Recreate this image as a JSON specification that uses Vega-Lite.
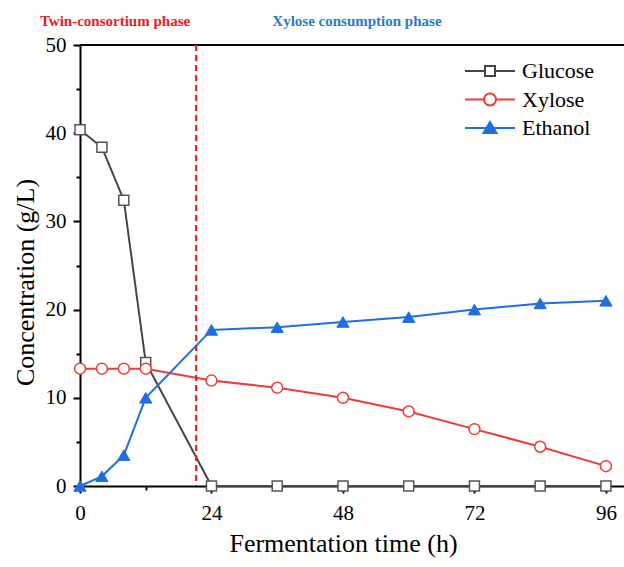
{
  "$schema": "https://vega.github.io/schema/vega-lite/v6.json",
  "autosize": {"type": "none"},
  "padding": {"left": 80, "top": 45, "right": 0, "bottom": 81},
  "width": 544,
  "height": 441,
  "config": {"view": {"stroke": null}, "font": "Liberation Serif"},
  "datasets": {
    "series": [
      {"time": 0, "conc": 40.4, "series": "Glucose"},
      {"time": 4, "conc": 38.4, "series": "Glucose"},
      {"time": 8, "conc": 32.4, "series": "Glucose"},
      {"time": 12, "conc": 14.0, "series": "Glucose"},
      {"time": 24, "conc": 0, "series": "Glucose"},
      {"time": 36, "conc": 0, "series": "Glucose"},
      {"time": 48, "conc": 0, "series": "Glucose"},
      {"time": 60, "conc": 0, "series": "Glucose"},
      {"time": 72, "conc": 0, "series": "Glucose"},
      {"time": 84, "conc": 0, "series": "Glucose"},
      {"time": 96, "conc": 0, "series": "Glucose"},
      {"time": 0, "conc": 13.3, "series": "Xylose"},
      {"time": 4, "conc": 13.3, "series": "Xylose"},
      {"time": 8, "conc": 13.3, "series": "Xylose"},
      {"time": 12, "conc": 13.3, "series": "Xylose"},
      {"time": 24, "conc": 11.95, "series": "Xylose"},
      {"time": 36, "conc": 11.15, "series": "Xylose"},
      {"time": 48, "conc": 10.0, "series": "Xylose"},
      {"time": 60, "conc": 8.45, "series": "Xylose"},
      {"time": 72, "conc": 6.45, "series": "Xylose"},
      {"time": 84, "conc": 4.45, "series": "Xylose"},
      {"time": 96, "conc": 2.25, "series": "Xylose"},
      {"time": 0, "conc": 0, "series": "Ethanol"},
      {"time": 4, "conc": 1.1, "series": "Ethanol"},
      {"time": 8, "conc": 3.5, "series": "Ethanol"},
      {"time": 12, "conc": 10.0, "series": "Ethanol"},
      {"time": 24, "conc": 17.7, "series": "Ethanol"},
      {"time": 36, "conc": 18.0, "series": "Ethanol"},
      {"time": 48, "conc": 18.6, "series": "Ethanol"},
      {"time": 60, "conc": 19.15, "series": "Ethanol"},
      {"time": 72, "conc": 20.0, "series": "Ethanol"},
      {"time": 84, "conc": 20.7, "series": "Ethanol"},
      {"time": 96, "conc": 21.0, "series": "Ethanol"}
    ]
  },
  "layer": [
    {
      "data": {"name": "series"},
      "mark": {"type": "line", "strokeWidth": 2},
      "encoding": {
        "x": {
          "field": "time", "type": "quantitative",
          "scale": {"domain": [0, 99.3], "nice": false, "zero": false},
          "axis": {
            "title": "Fermentation time (h)",
            "values": [0, 12, 24, 36, 48, 60, 72, 84, 96],
            "labelExpr": "datum.value % 24 === 0 ? datum.label : ''",
            "grid": false,
            "domainColor": "black", "domainWidth": 2,
            "tickColor": "black", "tickWidth": 2,
            "tickSize": {"condition": {"test": "datum.value % 24 !== 0", "value": 4}, "value": 7},
            "labelFont": "Liberation Serif", "labelFontSize": 21, "labelColor": "black",
            "labelPadding": 9, "labelOverlap": false, "labelFlush": false,
            "titleFont": "Liberation Serif", "titleFontSize": 26, "titleFontWeight": "normal", "titleColor": "black",
            "titleX": 263, "titleY": 65, "titleBaseline": "alphabetic", "titleAlign": "center"
          }
        },
        "y": {
          "field": "conc", "type": "quantitative",
          "scale": {"domain": [0, 50], "nice": false},
          "axis": {
            "title": "Concentration (g/L)",
            "values": [0, 5, 10, 15, 20, 25, 30, 35, 40, 45, 50],
            "labelExpr": "datum.value % 10 === 0 ? datum.label : ''",
            "grid": false,
            "domainColor": "black", "domainWidth": 2,
            "tickColor": "black", "tickWidth": 2,
            "tickSize": {"condition": {"test": "datum.value % 10 !== 0", "value": 4}, "value": 7},
            "labelFont": "Liberation Serif", "labelFontSize": 21, "labelColor": "black",
            "labelPadding": 7, "labelOverlap": false, "labelFlush": false,
            "titleFont": "Liberation Serif", "titleFontSize": 26, "titleFontWeight": "normal", "titleColor": "black",
            "titleX": -47, "titleY": 237, "titleBaseline": "alphabetic", "titleAlign": "center", "titleAngle": -90
          }
        },
        "stroke": {
          "field": "series", "type": "nominal",
          "scale": {"domain": ["Glucose", "Xylose", "Ethanol"], "range": ["#454545", "#ee3b3b", "#1f6fe0"]}
        }
      }
    },
    {
      "data": {"values": [{"ref": 50}]},
      "mark": {"type": "rule", "color": "black", "strokeWidth": 2},
      "encoding": {"y": {"field": "ref", "type": "quantitative"}}
    },
    {
      "data": {"values": [{"ref": 21.2}]},
      "mark": {"type": "rule", "color": "#ff1a1a", "strokeWidth": 2.2, "strokeDash": [6, 4]},
      "encoding": {"x": {"field": "ref", "type": "quantitative"}}
    },
    {
      "data": {"name": "series"},
      "transform": [{"filter": "datum.series === 'Glucose'"}],
      "mark": {"type": "point", "shape": "square", "size": 100, "filled": false, "fill": "white", "stroke": "#555555", "strokeWidth": 1.5, "opacity": 1},
      "encoding": {"x": {"field": "time", "type": "quantitative"}, "y": {"field": "conc", "type": "quantitative"}}
    },
    {
      "data": {"name": "series"},
      "transform": [{"filter": "datum.series === 'Xylose'"}],
      "mark": {"type": "point", "shape": "circle", "size": 120, "filled": false, "fill": "white", "stroke": "#ee3b3b", "strokeWidth": 1.5, "opacity": 1},
      "encoding": {"x": {"field": "time", "type": "quantitative"}, "y": {"field": "conc", "type": "quantitative"}}
    },
    {
      "data": {"name": "series"},
      "transform": [{"filter": "datum.series === 'Ethanol'"}],
      "mark": {"type": "point", "shape": "triangle-up", "size": 150, "filled": true, "fill": "#1f6fe0", "stroke": "#1f6fe0", "strokeWidth": 1, "opacity": 1},
      "encoding": {"x": {"field": "time", "type": "quantitative"}, "y": {"field": "conc", "type": "quantitative"}}
    },
    {
      "data": {"name": "series"},
      "transform": [{"filter": "datum.time < 0"}],
      "mark": {"type": "point", "filled": false, "strokeWidth": 2, "opacity": 1},
      "encoding": {
        "x": {"field": "time", "type": "quantitative"},
        "y": {"field": "conc", "type": "quantitative"},
        "stroke": {"field": "series", "type": "nominal"},
        "fill": {
          "field": "series", "type": "nominal",
          "scale": {"domain": ["Glucose", "Xylose", "Ethanol"], "range": ["white", "white", "#1f6fe0"]}
        },
        "shape": {
          "field": "series", "type": "nominal",
          "scale": {"domain": ["Glucose", "Xylose", "Ethanol"], "range": [
            "M-2.5,0H-0.5M0.5,0H2.5M-0.5,-0.5H0.5V0.5H-0.5Z",
            "M-2.5,0H-0.6M0.6,0H2.5M0.6,0C0.6,0.331,0.331,0.6,0,0.6C-0.331,0.6,-0.6,0.331,-0.6,0C-0.6,-0.331,-0.331,-0.6,0,-0.6C0.331,-0.6,0.6,-0.331,0.6,0Z",
            "M-2.5,0H2.5M0,-0.6L0.65,0.5L-0.65,0.5Z"
          ]},
          "legend": {
            "orient": "none", "legendX": 399, "legendY": 15, "title": null, "padding": 0,
            "symbolSize": 400, "symbolStrokeWidth": 2,
            "labelFont": "Liberation Serif", "labelFontSize": 22, "labelColor": "black",
            "labelOffset": 21, "rowPadding": 6.5, "labelBaseline": "middle"
          }
        }
      }
    },
    {
      "data": {"values": [{"t": 6.4, "c": 52.15, "label": "Twin-consortium phase"}]},
      "mark": {"type": "text", "color": "#ee1c1c", "fontWeight": "bold", "fontSize": 15, "font": "Liberation Serif", "baseline": "alphabetic", "align": "center"},
      "encoding": {"x": {"field": "t", "type": "quantitative"}, "y": {"field": "c", "type": "quantitative"}, "text": {"field": "label"}}
    },
    {
      "data": {"values": [{"t": 50.55, "c": 52.15, "label": "Xylose consumption phase"}]},
      "mark": {"type": "text", "color": "#2a7bc4", "fontWeight": "bold", "fontSize": 15, "font": "Liberation Serif", "baseline": "alphabetic", "align": "center"},
      "encoding": {"x": {"field": "t", "type": "quantitative"}, "y": {"field": "c", "type": "quantitative"}, "text": {"field": "label"}}
    }
  ]
}
